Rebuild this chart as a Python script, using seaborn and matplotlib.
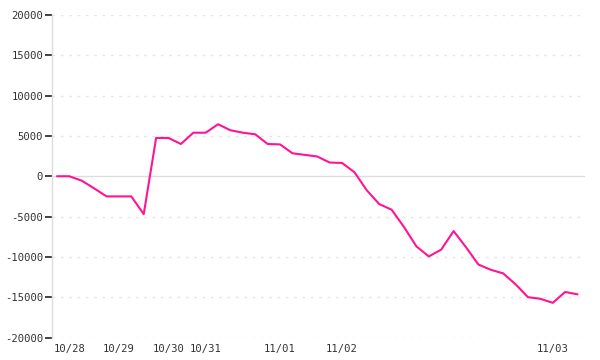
import matplotlib
matplotlib.use("Agg")
import matplotlib.pyplot as plt
import seaborn as sns
import pandas as pd
import numpy as np

values = [0, 0, -550, -1500, -2500, -2500, -2500, -4700, 4750, 4750,
          4000, 5400, 5400, 6450, 5700, 5400, 5200, 4000, 3950, 2850,
          2650, 2450, 1700, 1650, 500, -1750, -3450, -4150, -6300, -8700,
          -9950, -9100, -6800, -8800, -10950, -11600, -12050, -13400, -15000, -15200,
          -15700, -14350, -14650]
tick_idx = [1, 5, 9, 12, 18, 23, 40]
tick_labels = ["10/28", "10/29", "10/30", "10/31", "11/01", "11/02", "11/03"]
y_ticks = [20000, 15000, 10000, 5000, 0, -5000, -10000, -15000, -20000]

df = pd.DataFrame({"i": np.arange(len(values)), "v": values})

sns.set_style("white", {"ytick.left": True})
plt.rcParams['font.family'] = ['DejaVu Sans Mono', 'DejaVu Sans']
plt.rcParams['ytick.left'] = True
plt.rcParams['ytick.major.size'] = 5
plt.rcParams['ytick.major.width'] = 1.2

fig = plt.figure(figsize=(6, 3.6), dpi=100)
ax = fig.add_axes([51.5/600, 1-337.5/360, (585-51.5)/600, (337.5-15)/360])

for t in y_ticks:
    if t == 0:
        ax.axhline(t, color="#dddddd", lw=1.0, zorder=1)
    else:
        ax.axhline(t, color="#e6e6e6", lw=1.0, ls=(0, (2, 4)), zorder=1)

sns.lineplot(data=df, x="i", y="v", ax=ax, color="#ff1493", lw=1.5, zorder=3)

ax.set_xlim(-0.44, 42.6)
ax.set_ylim(-20000, 20000)
ax.set_yticks(y_ticks)
ax.set_yticklabels([str(t) for t in y_ticks])
ax.set_xticks(tick_idx)
ax.set_xticklabels(tick_labels)
ax.set_xlabel("")
ax.set_ylabel("")

for s in ["top", "right", "bottom"]:
    ax.spines[s].set_visible(False)
ax.spines["left"].set_color("#dddddd")
ax.spines["left"].set_linewidth(1.0)

ax.tick_params(axis="y", which="major", left=True, length=5, width=1.2, color="#222222",
               labelcolor="#333333", labelsize=7.6, pad=1)
ax.tick_params(axis="x", length=0, labelcolor="#333333", labelsize=7.6, pad=5)

fig.savefig("out.png", dpi=100)
